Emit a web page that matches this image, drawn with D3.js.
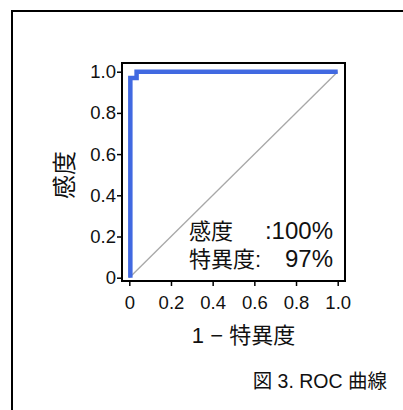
<!DOCTYPE html>
<html><head><meta charset="utf-8">
<script src="https://cdn.jsdelivr.net/npm/d3@7"></script>
<style>
html,body{margin:0;padding:0;background:#fff;}
svg{display:block;}
text{font-family:"Liberation Sans",Arial,"Noto Sans CJK JP",sans-serif;fill:#111;}
.cjk{font-family:"Liberation Sans","Noto Sans CJK JP",sans-serif;}
</style></head>
<body>
<svg id="c" width="403" height="410"></svg>
<script>
const rocFpr = [0.005, 0.005, 0.035, 0.035, 1.0];
const rocTpr = [0.0, 0.97, 0.97, 1.0, 1.0];
const diagFpr = [0, 1];
const diagTpr = [0, 1];
const xTicks = [0, 0.2, 0.4, 0.6, 0.8, 1.0];
const yTicks = [0, 0.2, 0.4, 0.6, 0.8, 1.0];
const tickLabels = ["0", "0.2", "0.4", "0.6", "0.8", "1.0"];
const xTitle = "1 − 特異度";
const yTitle = "感度";
const sensLabel = "感度";
const sensValue = ":100%";
const specLabel = "特異度:";
const specValue = "97%";
const caption = "図 3. ROC 曲線";

const svg = d3.select("#c");
// outer frame
svg.append("rect").attr("x",12).attr("y",11).attr("width",420).attr("height",430)
  .attr("fill","none").attr("stroke","#000").attr("stroke-width",2);

const box = {l:122, r:345, t:63, b:281};
const x = d3.scaleLinear().domain([0,1]).range([129.3,337.7]);
const y = d3.scaleLinear().domain([0,1]).range([277.7,71.7]);

const gx = svg.append("g").attr("transform",`translate(0,${box.b})`)
  .call(d3.axisBottom(x).tickValues(xTicks).tickFormat(d => tickLabels[xTicks.indexOf(d)]).tickSize(5).tickPadding(10));
const gy = svg.append("g").attr("transform",`translate(${box.l},0)`)
  .call(d3.axisLeft(y).tickValues(yTicks).tickFormat(d => tickLabels[yTicks.indexOf(d)]).tickSize(5).tickPadding(1));
[gx,gy].forEach(g=>{
  g.select(".domain").remove();
  g.selectAll(".tick line").attr("stroke","#000").attr("stroke-width",1.5);
  g.selectAll(".tick text").attr("font-size",18.5).attr("fill","#111")
   .style("font-family","'Liberation Sans',Arial,sans-serif");
});

// diagonal
const line = d3.line().x(d=>x(d[0])).y(d=>y(d[1]));
svg.append("path").datum(d3.zip(diagFpr,diagTpr)).attr("d",line)
  .attr("fill","none").attr("stroke","#a8a8a8").attr("stroke-width",1.3);
// ROC
svg.append("path").datum(d3.zip(rocFpr,rocTpr)).attr("d",line)
  .attr("fill","none").attr("stroke","#4169e1").attr("stroke-width",4.5).attr("stroke-linejoin","miter");

// frame
svg.append("rect").attr("x",box.l).attr("y",box.t).attr("width",box.r-box.l).attr("height",box.b-box.t)
  .attr("fill","none").attr("stroke","#000").attr("stroke-width",2);

// annotations
svg.append("text").attr("class","cjk").attr("x",189).attr("y",238.5).attr("font-size",22).text(sensLabel);
svg.append("text").attr("x",333).attr("y",238.5).attr("font-size",24).attr("text-anchor","end").text(sensValue);
svg.append("text").attr("class","cjk").attr("x",189).attr("y",266.5).attr("font-size",22).text(specLabel);
svg.append("text").attr("x",333).attr("y",266.5).attr("font-size",24).attr("text-anchor","end").text(specValue);

// axis titles
svg.append("text").attr("class","cjk").attr("x",243.5).attr("y",343).attr("font-size",22)
  .attr("text-anchor","middle").text(xTitle);
svg.append("text").attr("class","cjk").attr("transform","translate(73,175) rotate(-90)")
  .attr("font-size",24).attr("text-anchor","middle").text(yTitle);

// caption
svg.append("text").attr("class","cjk").attr("x",387).attr("y",388).attr("font-size",19.5)
  .attr("text-anchor","end").text(caption);
</script>
</body></html>
